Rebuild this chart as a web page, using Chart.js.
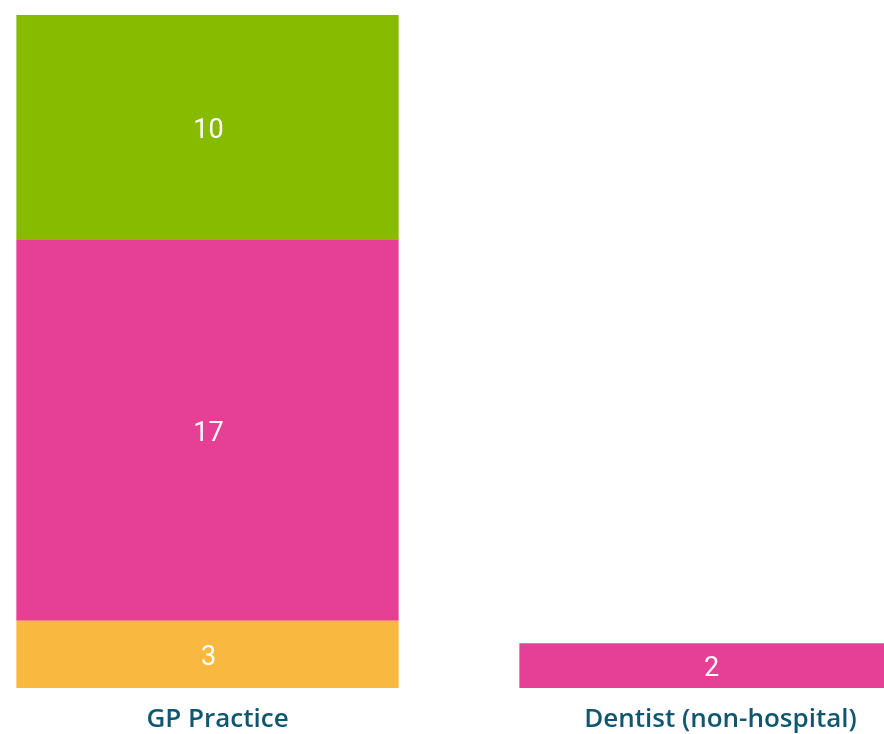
<!DOCTYPE html>
<html>
<head>
<meta charset="utf-8">
<script src="https://cdn.jsdelivr.net/npm/chart.js@4/dist/chart.umd.min.js"></script>
<style>
  html, body { margin: 0; padding: 0; background: #ffffff; overflow: hidden; }
  #wrap { position: relative; width: 884px; height: 734px; overflow: hidden; }
  #holder { position: absolute; left: -44.5px; top: 0; width: 1006px; height: 734px; }
</style>
</head>
<body>
<div id="wrap"><div id="holder"><canvas id="c"></canvas></div></div>
<script>
const categories = ['GP Practice', 'Dentist (non-hospital)'];
const seriesOrange = [3, null];
const seriesPink = [17, 2];
const seriesGreen = [10, null];
const yMax = 30;

const valueLabels = {
  id: 'valueLabels',
  afterDatasetsDraw(chart) {
    const ctx = chart.ctx;
    ctx.save();
    ctx.fillStyle = '#ffffff';
    ctx.font = '400 27px Roboto';
    ctx.textAlign = 'center';
    ctx.textBaseline = 'middle';
    chart.data.datasets.forEach((ds, i) => {
      const meta = chart.getDatasetMeta(i);
      meta.data.forEach((el, j) => {
        const v = ds.data[j];
        if (v === null || v === undefined) return;
        const p = el.getProps(['x', 'y', 'base'], true);
        ctx.fillText(String(v), p.x + 1, (p.y + p.base) / 2 + 4);
      });
    });
    ctx.restore();
  }
};

new Chart(document.getElementById('c'), {
  type: 'bar',
  data: {
    labels: categories,
    datasets: [
      { label: 'Orange', data: seriesOrange, backgroundColor: '#F9B83F' },
      { label: 'Pink', data: seriesPink, backgroundColor: '#E63F96' },
      { label: 'Green', data: seriesGreen, backgroundColor: '#86BB00' }
    ]
  },
  options: {
    responsive: true,
    maintainAspectRatio: false,
    animation: false,
    layout: { padding: { top: 15, left: 0, right: 0, bottom: 0 } },
    datasets: { bar: { barPercentage: 0.76, categoryPercentage: 1.0 } },
    plugins: { legend: { display: false }, tooltip: { enabled: false } },
    scales: {
      x: {
        stacked: true,
        grid: { display: false, drawTicks: false },
        border: { display: false },
        ticks: {
          color: '#0F5671',
          font: { family: 'Open Sans', size: 26, weight: '600' },
          padding: 16,
          labelOffset: 10
        },
        afterFit(scale) { scale.height = 46; }
      },
      y: {
        stacked: true,
        display: false,
        min: 0,
        max: yMax
      }
    }
  },
  plugins: [valueLabels]
});
</script>
</body>
</html>
